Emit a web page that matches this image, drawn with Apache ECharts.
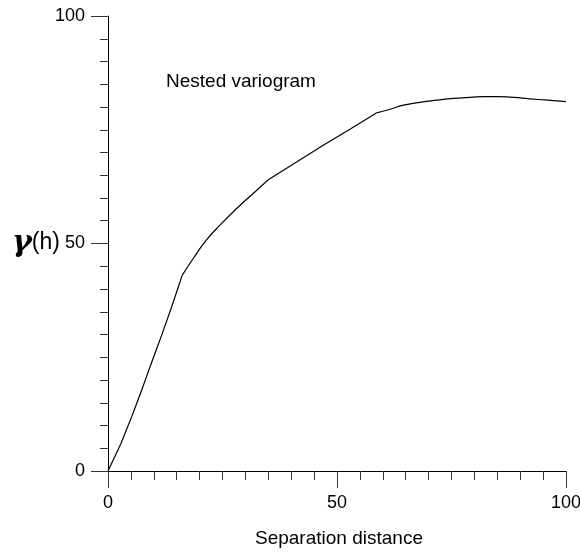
<!DOCTYPE html>
<html>
<head>
<meta charset="utf-8">
<script src="https://cdn.jsdelivr.net/npm/echarts@6/dist/echarts.min.js"></script>
<style>
html,body{margin:0;padding:0;background:#fff;}
#chart{width:580px;height:553px;}
</style>
</head>
<body>
<div id="chart"></div>
<script>
// Data
const distance = [0, 2.8, 5.2, 7.4, 9.5, 11.7, 13.9, 16.2, 18.6, 21.5, 24.5, 28.1, 31.7, 35.0, 41, 47, 53, 58.6, 61.6, 64.5, 68, 71.8, 75.5, 79.0, 82, 85, 88.5, 92.1, 96, 100];
const gamma    = [0, 6.0, 12.0, 17.9, 23.8, 29.8, 36.1, 43.0, 46.7, 50.8, 54.1, 57.7, 61.0, 64.0, 67.8, 71.6, 75.2, 78.7, 79.5, 80.4, 81.0, 81.5, 81.9, 82.1, 82.3, 82.3, 82.1, 81.8, 81.5, 81.2];
// indices where the nested model changes structure (kinks)
const kinkIdx = [0, 7, 13, 17, 29];
const segSmooth = [0.1, 0.5, 0, 0.6];
const xTicks = [0, 50, 100];
const yTicks = [0, 50, 100];
const seriesName = 'Nested variogram';
const xName = 'Separation distance';

const FONT = '"Liberation Sans", Arial, sans-serif';
const chart = echarts.init(document.getElementById('chart'), null, {renderer: 'canvas'});

const axisCommon = {
  type: 'value', min: 0, max: 100, interval: 50,
  axisLine: {show: true, lineStyle: {color: '#000', width: 1}},
  axisTick: {show: true, inside: false, length: 17, lineStyle: {color: '#333', width: 1}},
  minorTick: {show: true, splitNumber: 10, lineStyle: {color: '#333', width: 1}},
  splitLine: {show: false},
  minorSplitLine: {show: false},
  axisLabel: {color: '#000', fontFamily: FONT, fontSize: 18, showMinLabel: true, showMaxLabel: true}
};

const series = [];
for (let s = 0; s < kinkIdx.length - 1; s++) {
  const pts = [];
  for (let i = kinkIdx[s]; i <= kinkIdx[s + 1]; i++) pts.push([distance[i], gamma[i]]);
  series.push({
    name: seriesName,
    type: 'line',
    data: pts,
    showSymbol: false,
    smooth: segSmooth[s] || false,
    lineStyle: {color: '#000', width: 1.2},
    clip: false
  });
}

chart.setOption({
  animation: false,
  backgroundColor: '#fff',
  grid: {left: 108, right: 14, top: 16, bottom: 82, containLabel: false, outerBoundsMode: 'none'},
  xAxis: Object.assign({}, axisCommon, {
    minorTick: Object.assign({}, axisCommon.minorTick, {length: 9}),
    axisLabel: Object.assign({}, axisCommon.axisLabel, {margin: 23, formatter: v => xTicks.includes(v) ? String(v) : ''})
  }),
  yAxis: Object.assign({}, axisCommon, {
    minorTick: Object.assign({}, axisCommon.minorTick, {length: 8}),
    axisLabel: Object.assign({}, axisCommon.axisLabel, {margin: 23, formatter: v => yTicks.includes(v) ? String(v) : ''})
  }),
  graphic: [
    {type: 'text', left: 166, top: 72, style: {text: seriesName, font: '19px ' + FONT, fill: '#000'}},
    {type: 'text', left: 339 - 84, top: 529, style: {text: xName, font: '19px ' + FONT, fill: '#000'}},
    {type: 'text', left: 12, top: 228, style: {
      text: '{g|γ}{h|(h)}',
      rich: {
        g: {fontFamily: '"DejaVu Serif", serif', fontWeight: 'bold', fontStyle: 'italic', fontSize: 30, color: '#000'},
        h: {fontFamily: FONT, fontSize: 23, color: '#000'}
      }
    }}
  ],
  series: series
});
</script>
</body>
</html>
